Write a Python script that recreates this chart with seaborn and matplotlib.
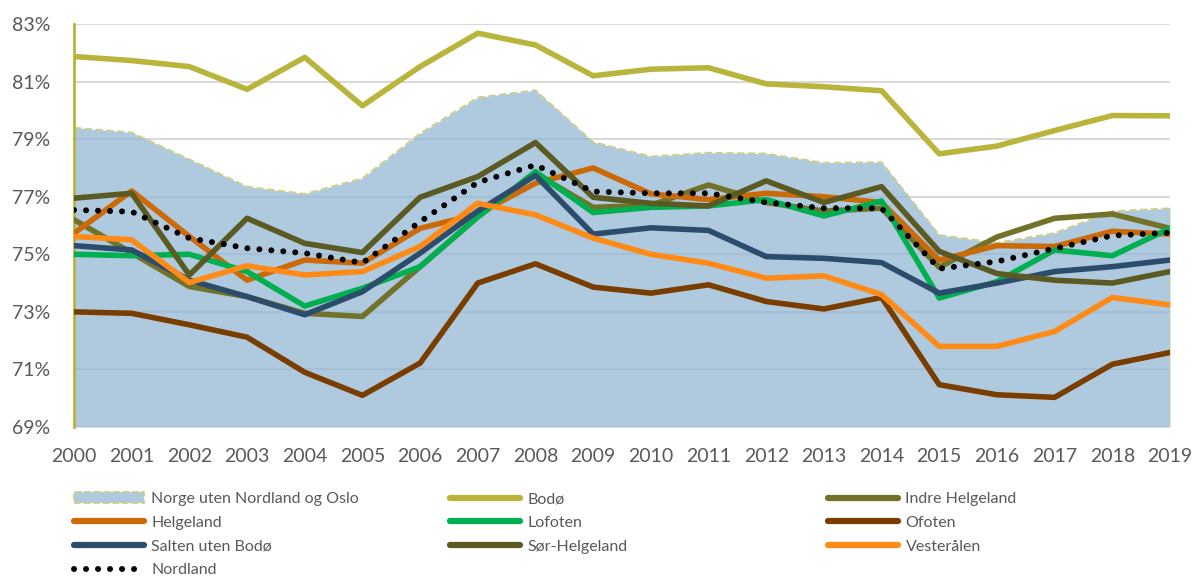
import matplotlib
matplotlib.use("Agg")
import matplotlib.pyplot as plt
import matplotlib.patches as mpatches
import matplotlib.lines as mlines
import seaborn as sns
import pandas as pd

years = list(range(2000, 2020))

# andel sysselsatte (%), lest av figuren
norge = [79.4, 79.23, 78.3, 77.35, 77.1, 77.64, 79.2, 80.45, 80.7, 78.9,
         78.4, 78.53, 78.5, 78.18, 78.2, 75.67, 75.4, 75.74, 76.5, 76.6]
bodo = [81.87, 81.73, 81.52, 80.73, 81.84, 80.16, 81.52, 82.68, 82.27, 81.2,
        81.43, 81.48, 80.92, 80.82, 80.68, 78.49, 78.76, 79.3, 79.82, 79.81]
indre = [76.2, 75.05, 73.88, 73.53, 72.95, 72.84, 74.57, 76.3, 77.8, 76.63,
         76.7, 77.41, 76.8, 76.5, 76.6, 74.55, 75.6, 76.25, 76.4, 75.9]
helgeland = [75.73, 77.2, 75.62, 74.1, 74.8, 74.69, 75.9, 76.4, 77.47, 78.0,
             77.1, 76.9, 77.12, 77.0, 76.8, 74.8, 75.3, 75.27, 75.8, 75.7]
lofoten = [75.0, 74.95, 75.0, 74.4, 73.2, 73.82, 74.57, 76.3, 77.87, 76.45,
           76.63, 76.68, 76.9, 76.33, 76.85, 73.48, 74.05, 75.15, 74.95, 75.9]
ofoten = [73.0, 72.95, 72.55, 72.12, 70.9, 70.1, 71.22, 74.0, 74.67, 73.86,
          73.65, 73.94, 73.36, 73.1, 73.5, 70.47, 70.12, 70.03, 71.18, 71.59]
salten = [75.3, 75.15, 74.1, 73.53, 72.9, 73.7, 75.04, 76.5, 77.74, 75.7,
          75.92, 75.83, 74.92, 74.86, 74.71, 73.65, 74.0, 74.4, 74.57, 74.8]
sor = [76.95, 77.12, 74.28, 76.25, 75.38, 75.06, 76.98, 77.7, 78.88, 76.98,
       76.77, 76.68, 77.55, 76.8, 77.35, 75.1, 74.33, 74.1, 74.0, 74.4]
vesteralen = [75.62, 75.5, 74.02, 74.6, 74.28, 74.4, 75.27, 76.77, 76.37, 75.56,
              75.0, 74.69, 74.17, 74.25, 73.6, 71.8, 71.8, 72.32, 73.5, 73.24]
nordland = [76.54, 76.48, 75.56, 75.21, 75.04, 74.7, 76.13, 77.5, 78.1, 77.18,
            77.12, 77.12, 76.8, 76.6, 76.6, 74.5, 74.75, 75.2, 75.65, 75.75]

area_name = "Norge uten Nordland og Oslo"
lines = [
    ("Bodø", bodo, "#B8B43C"),
    ("Indre Helgeland", indre, "#727229"),
    ("Helgeland", helgeland, "#CC6A0A"),
    ("Lofoten", lofoten, "#00B050"),
    ("Ofoten", ofoten, "#7A3D00"),
    ("Salten uten Bodø", salten, "#2B4C6B"),
    ("Sør-Helgeland", sor, "#5A5A22"),
    ("Vesterålen", vesteralen, "#FF8B16"),
]

sns.set_theme(style="white")
plt.rcParams['font.family'] = ['Lato', 'DejaVu Sans']
grey = "#595959"

fig, ax = plt.subplots(figsize=(11.96, 5.76), dpi=100)
fig.subplots_adjust(left=74/1196, right=1170/1196, top=1-24/576, bottom=1-427/576)

ax.set_ylim(69, 83)
ax.set_xlim(years[0], years[-1])
ax.set_yticks(range(69, 84, 2))
ax.yaxis.grid(True, color="#D9D9D9", lw=1.5, zorder=0)
ax.set_axisbelow(True)

# arealet
ax.fill_between(years, 69, norge, color="#94B7D3", alpha=0.75, lw=0, zorder=1)
ax.plot(years, norge, color="#CFCF85", lw=1.3, ls=(0, (4, 2)), zorder=1.5)
ax.vlines(years[-1], 69, norge[-1], color="#CFCF85", lw=1.3, ls=(0, (4, 2)), zorder=1.5)

for name, vals, col in lines:
    df = pd.DataFrame({"year": years, "val": vals})
    sns.lineplot(data=df, x="year", y="val", ax=ax, color=col, lw=4, zorder=3)

df = pd.DataFrame({"year": years, "val": nordland})
sns.lineplot(data=df, x="year", y="val", ax=ax, color="black", lw=4.3, zorder=4,
             dashes=False)
ax.lines[-1].set_linestyle((0, (0.01, 2.0)))
ax.lines[-1].set_dash_capstyle("round")

ax.set_xlabel("")
ax.set_ylabel("")
ax.set_xticks(years)
ax.set_xticklabels([str(y) for y in years])
ax.set_yticklabels([f"{v}%" for v in range(69, 84, 2)])
ax.tick_params(axis="x", length=0, pad=15, labelsize=14, labelcolor=grey)
ax.tick_params(axis="y", length=0, pad=17, labelsize=14, labelcolor=grey)
for s in ["top", "right", "bottom"]:
    ax.spines[s].set_visible(False)
ax.spines["left"].set_color("#B8B43C")
ax.spines["left"].set_linewidth(2)

# legender, tre kolonner
def line_handle(name):
    for n, v, c in lines:
        if n == name:
            return mlines.Line2D([], [], color=c, lw=4.5, label=n)
area_h = mpatches.Patch(facecolor="#AFC9DE", edgecolor="#CFCF85", ls="--", lw=1.3, label=area_name)
nord_h = mlines.Line2D([], [], color="black", lw=4.3, ls=(0, (0.01, 2.0)),
                       dash_capstyle="round", label="Nordland")
cols = [
    [area_h, line_handle("Helgeland"), line_handle("Salten uten Bodø"), nord_h],
    [line_handle("Bodø"), line_handle("Lofoten"), line_handle("Sør-Helgeland")],
    [line_handle("Indre Helgeland"), line_handle("Ofoten"), line_handle("Vesterålen")],
]
xs = [74, 450, 828]
for x, hs in zip(xs, cols):
    leg = fig.legend(handles=hs, loc="upper left", bbox_to_anchor=(x/1196, 1-492/576),
                     frameon=False, fontsize=11.5, handlelength=4.4, handletextpad=0.45,
                     labelspacing=0.6, borderpad=0, borderaxespad=0, labelcolor=grey)

fig.savefig("out.png", dpi=100)
